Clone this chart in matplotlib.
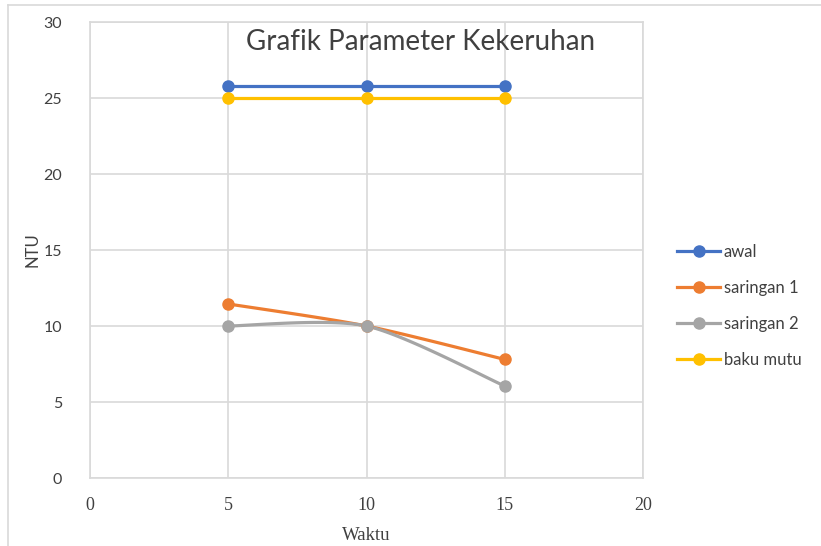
import numpy as np
import matplotlib
matplotlib.use("Agg")
import matplotlib.pyplot as plt
from matplotlib.lines import Line2D

waktu = [5, 10, 15]
awal = [25.8, 25.8, 25.8]
saringan_1 = [11.45, 10.0, 7.8]
saringan_2 = [10.0, 10.0, 6.05]
baku_mutu = [25.0, 25.0, 25.0]

series = [
    ("awal", awal, "#4472C4"),
    ("saringan 1", saringan_1, "#ED7D31"),
    ("saringan 2", saringan_2, "#A5A5A5"),
    ("baku mutu", baku_mutu, "#FFC000"),
]


def smooth(xs, ys, n=40, k=0.4):
    # catmull-rom like excel "smoothed line", slightly tighter tension
    p = np.column_stack([xs, ys]).astype(float)
    pts = np.vstack([p[0], p, p[-1]])
    out = []
    for i in range(1, len(pts) - 2):
        p0, p1, p2, p3 = pts[i - 1], pts[i], pts[i + 1], pts[i + 2]
        m1 = k * (p2 - p0)
        m2 = k * (p3 - p1)
        t = np.linspace(0, 1, n)[:, None]
        h00 = 2 * t**3 - 3 * t**2 + 1
        h10 = t**3 - 2 * t**2 + t
        h01 = -2 * t**3 + 3 * t**2
        h11 = t**3 - t**2
        out.append(h00 * p1 + h10 * m1 + h01 * p2 + h11 * m2)
    c = np.vstack(out)
    return c[:, 0], c[:, 1]


fig = plt.figure(figsize=(8.21, 5.46), dpi=100)
ax = fig.add_axes([90 / 821, 1 - 478 / 546, (643 - 90) / 821, (478 - 22) / 546])

for label, vals, color in series:
    sx, sy = smooth(waktu, vals)
    ax.plot(sx, sy, color=color, linewidth=2.3, solid_capstyle="round", zorder=3)
    ax.plot(waktu, vals, "o", color=color, markersize=8, zorder=4)

ax.set_xlim(0, 20)
ax.set_ylim(0, 30)
ax.set_xticks([0, 5, 10, 15, 20])
ax.set_yticks([0, 5, 10, 15, 20, 25, 30])
ax.grid(True, color="#d9d9d9", linewidth=1.2)
ax.set_axisbelow(True)
for sp in ax.spines.values():
    sp.set_color("#d9d9d9")
    sp.set_linewidth(1.2)
ax.tick_params(length=0, colors="#404040")
ax.tick_params(axis="x", pad=14)
ax.tick_params(axis="y", pad=20)
for t in ax.get_xticklabels():
    t.set_family("Liberation Serif")
    t.set_fontsize(13)
for t in ax.get_yticklabels():
    t.set_family("Lato")
    t.set_fontsize(11.5)

ax.set_xlabel("Waktu", family="Liberation Serif", fontsize=13.5, color="#404040", labelpad=9)
ax.set_ylabel("NTU", family="Lato", fontsize=12, color="#404040", labelpad=2)

fig.text(421 / 821, 1 - 42 / 546, "Grafik Parameter Kekeruhan", family="Lato",
         fontsize=20, color="#404040", ha="center", va="center")

handles = [Line2D([0], [0], color=c, linewidth=2.3, marker="o", markersize=8)
           for _, _, c in series]
fig.legend(handles, [s[0] for s in series], loc="center left",
           bbox_to_anchor=(662 / 821, 1 - 306 / 546), frameon=False,
           prop={"family": "Lato", "size": 12}, labelcolor="#404040",
           handlelength=2.6, handletextpad=0.2, labelspacing=1.2)

# outer chart frame
fig.add_artist(Line2D([8 / 821, 1], [1 - 5 / 546] * 2, color="#d9d9d9", linewidth=1.2))
fig.add_artist(Line2D([8 / 821] * 2, [0, 1 - 5 / 546], color="#d9d9d9", linewidth=1.2))

fig.savefig("out.png", dpi=100)
